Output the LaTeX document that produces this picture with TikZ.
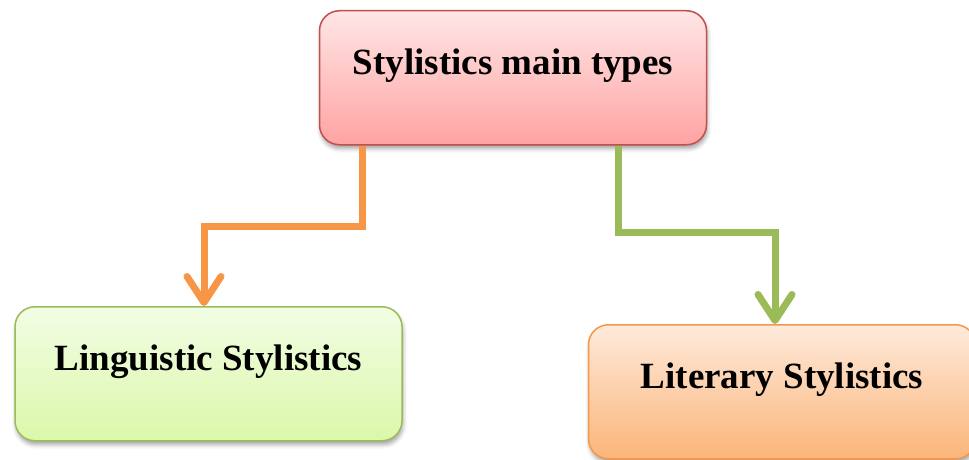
\documentclass[tikz,border=0pt]{standalone}
\usepackage{fontspec}
\setmainfont{Liberation Serif}
\usetikzlibrary{arrows.meta,shadows.blur}

\definecolor{redborder}{HTML}{C0504D}
\definecolor{redtop}{HTML}{FFE6E6}
\definecolor{redbot}{HTML}{FFA3A3}
\definecolor{greenborder}{HTML}{9BBB59}
\definecolor{greentop}{HTML}{F2FDE4}
\definecolor{greenbot}{HTML}{DBF8AA}
\definecolor{orangeborder}{HTML}{F79646}
\definecolor{orangetop}{HTML}{FEEADB}
\definecolor{orangebot}{HTML}{FBB57A}

\tikzset{
  typebox/.style={draw, line width=1.5pt, rounded corners=20pt, inner sep=0pt,
    minimum width=387pt, text height=64pt, text depth=70pt, anchor=north,
    font=\fontsize{37}{44}\selectfont\bfseries,
    blur shadow={shadow xshift=1pt, shadow yshift=-4pt, shadow blur radius=4pt, shadow opacity=35}},
  redbox/.style={typebox, draw=redborder, top color=redtop, bottom color=redbot},
  greenbox/.style={typebox, draw=greenborder, top color=greentop, bottom color=greenbot},
  orangebox/.style={typebox, draw=orangeborder, top color=orangetop, bottom color=orangebot},
  link/.style={line width=7pt, line join=miter, line cap=butt,
    -{Straight Barb[length=26pt, width=34pt, line cap=round, line join=round]}},
}

\begin{document}
\begin{tikzpicture}[x=1pt, y=1pt]
  \useasboundingbox (0,0) rectangle (969,-460);
  \clip (0,0) rectangle (969,-460);

  % boxes
  \node[redbox] (main) at (513,-10) {Stylistics main types};
  \node[greenbox] (ling) at (208.5,-306) {Linguistic Stylistics};
  \node[orangebox] (lit) at (782,-324) {Literary Stylistics};

  % bends of the elbow connectors
  \coordinate (lbend) at (362,-226);
  \coordinate (ldrop) at (204,-226);
  \coordinate (rbend) at (618,-232);
  \coordinate (rdrop) at (775,-232);

  \draw[link, draw=orangeborder] (lbend |- main.south) -- (lbend) -- (ldrop) -- (ldrop |- ling.north);
  \draw[link, draw=greenborder] (rbend |- main.south) -- (rbend) -- (rdrop) -- (rdrop |- lit.north);
\end{tikzpicture}
\end{document}
